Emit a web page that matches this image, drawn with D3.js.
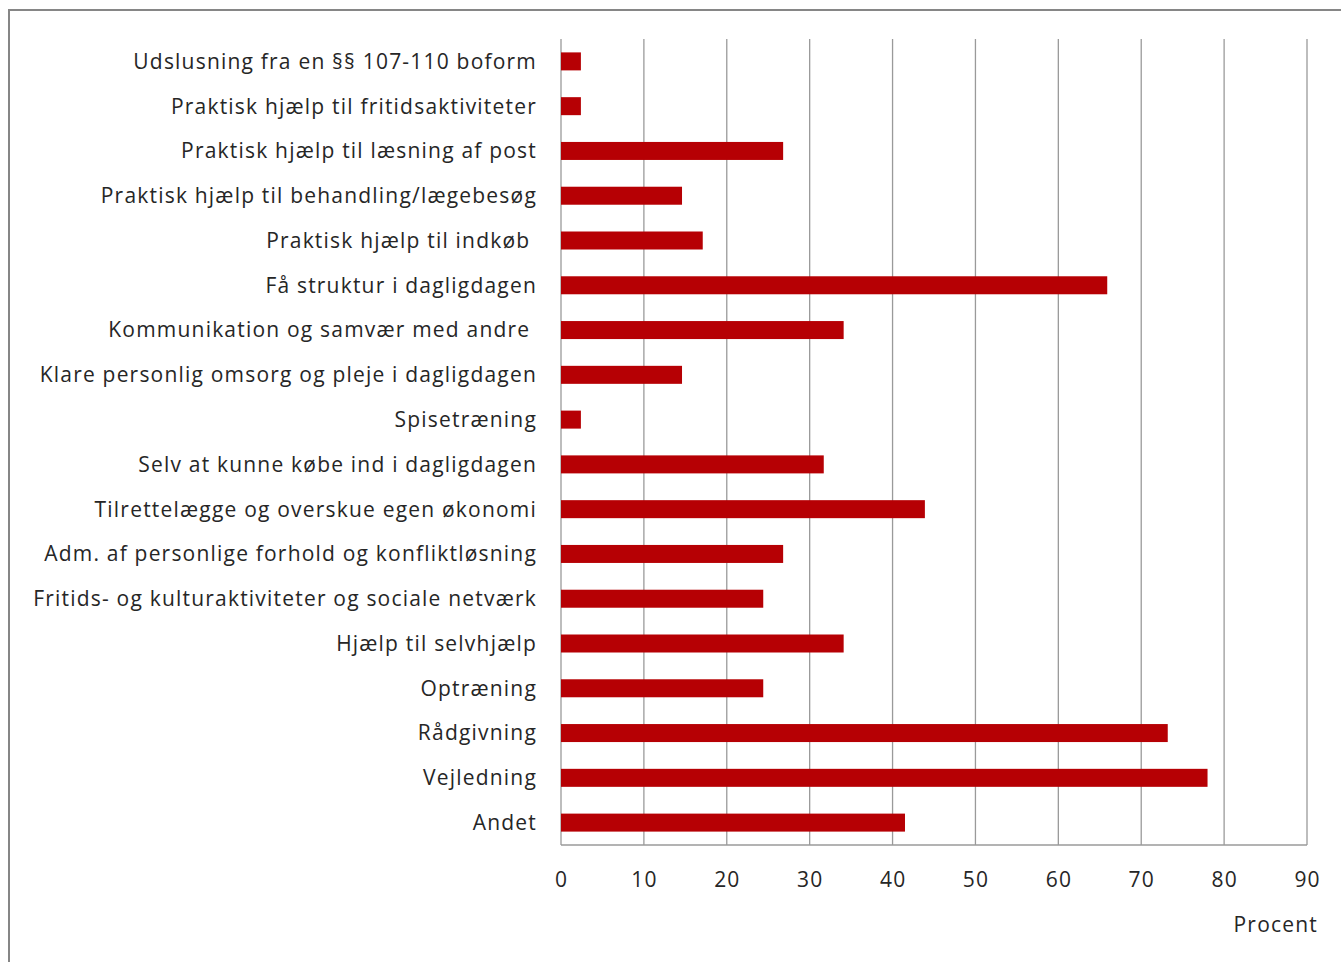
<!DOCTYPE html>
<html>
<head>
<meta charset="utf-8">
<script src="https://cdn.jsdelivr.net/npm/d3@7"></script>
<style>
    body { margin: 0; background: #fff; }
    text { font-family: "Open Sans", "Noto Sans", sans-serif; fill: #262626; letter-spacing: 1.2px; }
</style>
</head>
<body>
<script>
const categories = [
    "Udslusning fra en §§ 107-110 boform",
    "Praktisk hjælp til fritidsaktiviteter",
    "Praktisk hjælp til læsning af post",
    "Praktisk hjælp til behandling/lægebesøg",
    "Praktisk hjælp til indkøb ",
    "Få struktur i dagligdagen",
    "Kommunikation og samvær med andre ",
    "Klare personlig omsorg og pleje i dagligdagen",
    "Spisetræning",
    "Selv at kunne købe ind i dagligdagen",
    "Tilrettelægge og overskue egen økonomi",
    "Adm. af personlige forhold og konfliktløsning",
    "Fritids- og kulturaktiviteter og sociale netværk",
    "Hjælp til selvhjælp",
    "Optræning",
    "Rådgivning",
    "Vejledning",
    "Andet"
];
const values = [2.4, 2.4, 26.8, 14.6, 17.1, 65.9, 34.1, 14.6, 2.4, 31.7, 43.9, 26.8, 24.4, 34.1, 24.4, 73.2, 78.0, 41.5];
const xTicks = [0, 10, 20, 30, 40, 50, 60, 70, 80, 90];
const axisTitle = "Procent";

const width = 1341, height = 962;
const svg = d3.select("body").append("svg").attr("width", width).attr("height", height);

// outer chart border (runs off the right and bottom edge)
svg.append("rect")
    .attr("x", 9).attr("y", 10)
    .attr("width", 1345).attr("height", 960)
    .attr("fill", "none")
    .attr("stroke", "#868686")
    .attr("stroke-width", 2);

const x = d3.scaleLinear().domain([0, 90]).range([561, 1307]);
const y = d3.scaleBand().domain(categories).range([39, 845]).paddingInner(0.6).paddingOuter(0.3);

// gridlines
svg.append("g").selectAll("line")
    .data(xTicks)
    .enter()
    .append("line")
    .attr("x1", d => x(d)).attr("x2", d => x(d))
    .attr("y1", 39).attr("y2", 845)
    .attr("stroke", "#9a9a9a")
    .attr("stroke-width", 1.3);

// bottom axis line
svg.append("line")
    .attr("x1", x(0)).attr("x2", x(90))
    .attr("y1", 845).attr("y2", 845)
    .attr("stroke", "#9a9a9a")
    .attr("stroke-width", 1.3);

svg.append("g").selectAll("rect")
    .data(values)
    .enter()
    .append("rect")
    .attr("x", x(0))
    .attr("y", (d, i) => y(categories[i]) + y.bandwidth() / 2 - 9)
    .attr("width", d => x(d) - x(0))
    .attr("height", 18)
    .attr("fill", "#b60004");

// category labels (trailing letter-spacing offset kept off the right edge)
svg.append("g").selectAll("text")
    .data(categories)
    .enter()
    .append("text")
    .attr("x", 537)
    .attr("y", d => y(d) + y.bandwidth() / 2)
    .attr("dy", "0.35em")
    .attr("text-anchor", "end")
    .style("white-space", "pre")
    .attr("font-size", 21)
    .text(d => d);

// tick labels
svg.append("g").selectAll("text")
    .data(xTicks)
    .enter()
    .append("text")
    .attr("x", d => x(d) + 0.6)
    .attr("y", 880)
    .attr("dy", "0.35em")
    .attr("text-anchor", "middle")
    .attr("font-size", 21)
    .text(d => d);

svg.append("text")
    .attr("x", 1318)
    .attr("y", 925)
    .attr("dy", "0.35em")
    .attr("text-anchor", "end")
    .attr("font-size", 21)
    .text(axisTitle);
</script>
</body>
</html>
